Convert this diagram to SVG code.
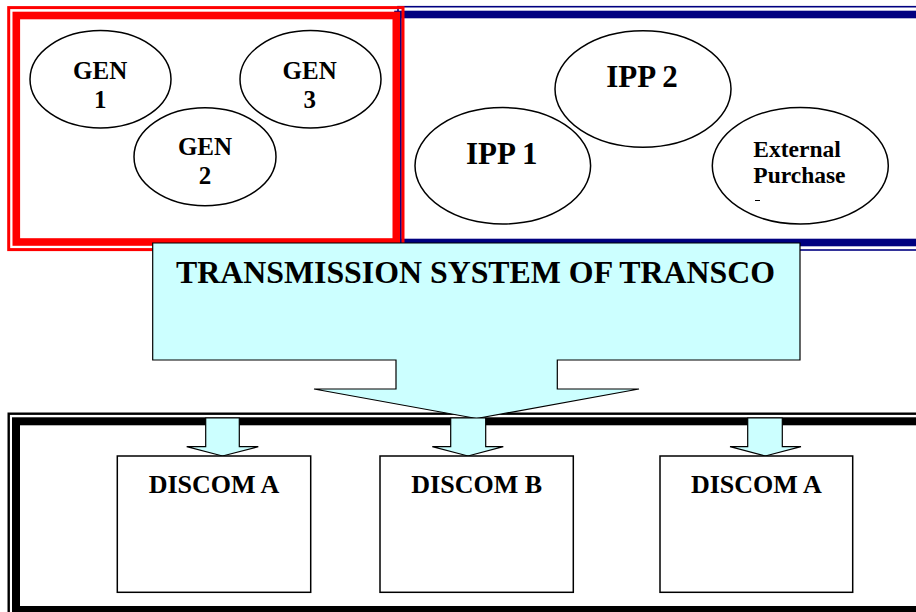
<svg xmlns="http://www.w3.org/2000/svg" width="916" height="612" viewBox="0 0 916 612">
<style>
.t{font-family:"Liberation Serif","Times New Roman",serif;font-weight:bold;fill:#000}
.ell{fill:#fff;stroke:#000;stroke-width:1.5}
.box{fill:#fff;stroke:#000;stroke-width:1.5}
.arr{fill:#ccffff;stroke:#000;stroke-width:1.2;stroke-linejoin:miter}
</style>
<rect width="916" height="612" fill="#fff"/>
<!-- frames -->
<g id="ipp-frame" fill="none" stroke="#000080">
<rect x="398" y="6.7" width="620" height="243.3" stroke-width="1.6"/>
<rect x="398" y="14.5" width="620" height="228" stroke-width="7.6"/>
</g>
<g id="gen-frame" fill="none" stroke="#ff0000">
<rect x="8.7" y="7.6" width="394.3" height="242" stroke-width="3"/>
<rect x="16.3" y="15.5" width="380" height="226.5" stroke-width="7.6"/>
</g>
<g id="discom-frame" fill="none" stroke="#000">
<rect x="8.7" y="413.7" width="1000" height="203" stroke-width="2.4"/>
<rect x="16" y="421.3" width="1000" height="188.7" stroke-width="8"/>
</g>
<!-- generators -->
<g id="gen1"><ellipse class="ell" cx="100.5" cy="79.3" rx="70.5" ry="48.7"/>
<text class="t" x="100.2" y="78.7" font-size="25" text-anchor="middle">GEN</text>
<text class="t" x="100.2" y="107.5" font-size="25" text-anchor="middle">1</text></g>
<g id="gen3"><ellipse class="ell" cx="310.5" cy="79.3" rx="70.5" ry="48.7"/>
<text class="t" x="309.7" y="78.7" font-size="25" text-anchor="middle">GEN</text>
<text class="t" x="309.7" y="107.5" font-size="25" text-anchor="middle">3</text></g>
<g id="gen2"><ellipse class="ell" cx="205" cy="156.7" rx="71" ry="49"/>
<text class="t" x="205" y="155.3" font-size="25" text-anchor="middle">GEN</text>
<text class="t" x="205" y="184.3" font-size="25" text-anchor="middle">2</text></g>
<g id="ipp1"><ellipse class="ell" cx="502.8" cy="165.8" rx="87.8" ry="58.2"/>
<text class="t" x="501.7" y="164.3" font-size="31" text-anchor="middle">IPP 1</text></g>
<g id="ipp2"><ellipse class="ell" cx="643" cy="89" rx="88" ry="58.3"/>
<text class="t" x="642" y="87.3" font-size="31" text-anchor="middle">IPP 2</text></g>
<g id="external"><ellipse class="ell" cx="800.3" cy="165.8" rx="88" ry="58.2"/>
<text class="t" x="753.3" y="156.7" font-size="23.5">External</text>
<text class="t" x="753.3" y="183.3" font-size="23.5">Purchase</text>
<line x1="755" y1="200.5" x2="760" y2="200.5" stroke="#000" stroke-width="1"/></g>
<!-- transmission -->
<g id="transco">
<path class="arr" d="M152.7,243 H800 V360 H557.3 V389 H639 L476.5,418.5 L314,389 H396 V360 H152.7 Z" stroke-width="1.5"/>
<text class="t" x="176" y="283.3" font-size="31.7" textLength="599" lengthAdjust="spacingAndGlyphs">TRANSMISSION SYSTEM OF TRANSCO</text>
</g>
<!-- connectors -->
<g id="connectors">
<path class="arr" d="M205.7,418 H239.3 V446.7 H258.3 L222.5,456 L186.7,446.7 H205.7 Z"/>
<path class="arr" d="M450.7,418 H485.7 V446.7 H503.3 L468,456 L432.3,446.7 H450.7 Z"/>
<path class="arr" d="M747.7,418 H782.3 V446.7 H801 L765.3,456 L730,446.7 H747.7 Z"/>
</g>
<!-- discoms -->
<g id="discom-a1"><rect class="box" x="117.3" y="456" width="193.4" height="136.3"/>
<text class="t" x="214" y="493.3" font-size="26" text-anchor="middle">DISCOM A</text></g>
<g id="discom-b"><rect class="box" x="380" y="456" width="193.3" height="136.3"/>
<text class="t" x="476.7" y="493.3" font-size="26" text-anchor="middle">DISCOM B</text></g>
<g id="discom-a2"><rect class="box" x="660" y="456" width="192.7" height="136.3"/>
<text class="t" x="756.3" y="493.3" font-size="26" text-anchor="middle">DISCOM A</text></g>
</svg>
